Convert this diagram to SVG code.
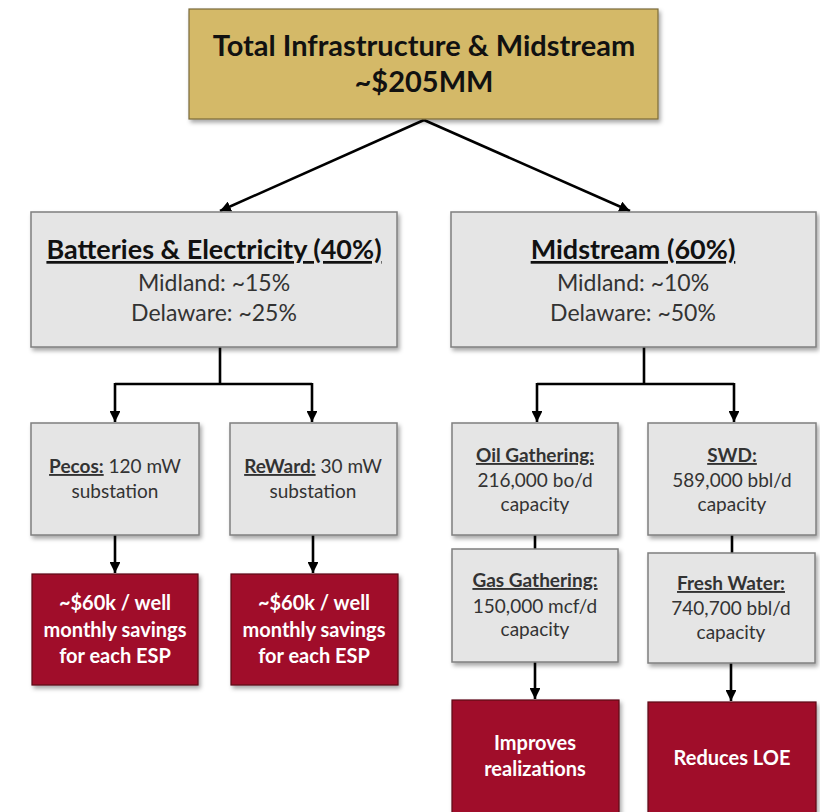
<svg xmlns="http://www.w3.org/2000/svg" width="820" height="812" viewBox="0 0 820 812">
<defs>
<filter id="sh" x="-10%" y="-10%" width="125%" height="130%">
<feDropShadow dx="2" dy="3" stdDeviation="2" flood-color="#000" flood-opacity="0.35"/>
</filter>
<marker id="ah" viewBox="0 0 10 10" refX="10" refY="5" markerWidth="4.2" markerHeight="4.2" markerUnits="strokeWidth" orient="auto">
<path d="M0,0 L10,5 L0,10 z" fill="#000"/>
</marker>
<style>
.gold{fill:#D4B968;stroke:#7a6a3a;stroke-width:1.2}
.gray{fill:#E5E5E5;stroke:#7f7f7f;stroke-width:1.5}
.red{fill:#A00D2C;stroke:#5a0716;stroke-width:1.2}
text{font-family:Lato,"Liberation Sans",sans-serif;text-anchor:middle}
.t0{font-size:29px;font-weight:bold;fill:#111}
.h1{font-size:27px;font-weight:bold;fill:#111;text-decoration:underline}
.s1{font-size:23px;fill:#333}
.b{font-size:19px;fill:#333}
.bu{font-weight:bold;text-decoration:underline}
.w{font-size:20px;font-weight:bold;fill:#fff}
.ln{fill:none;stroke:#000;stroke-width:2.6}
</style>
</defs>
<g id="connectors">
<path class="ln" d="M424,120 L220,211" marker-end="url(#ah)"/>
<path class="ln" d="M424,120 L630,211" marker-end="url(#ah)"/>
<path class="ln" d="M220,347 V384"/>
<path class="ln" d="M115,384 H312"/>
<path class="ln" d="M115,383 V422" marker-end="url(#ah)"/>
<path class="ln" d="M312,383 V422" marker-end="url(#ah)"/>
<path class="ln" d="M644,347 V384"/>
<path class="ln" d="M537,384 H734"/>
<path class="ln" d="M537,383 V422" marker-end="url(#ah)"/>
<path class="ln" d="M734,383 V422" marker-end="url(#ah)"/>
<path class="ln" d="M115,535 V573" marker-end="url(#ah)"/>
<path class="ln" d="M313,535 V573" marker-end="url(#ah)"/>
<path class="ln" d="M535,535 V549"/>
<path class="ln" d="M732,535 V553"/>
<path class="ln" d="M535,662 V699" marker-end="url(#ah)"/>
<path class="ln" d="M731,663 V701" marker-end="url(#ah)"/>
</g>
<g id="total">
<rect class="gold" x="189" y="9" width="469" height="110" filter="url(#sh)"/>
<text class="t0" x="424" y="56">Total Infrastructure &amp; Midstream</text>
<text class="t0" x="424" y="92">~$205MM</text>
</g>
<g id="batteries">
<rect class="gray" x="31" y="212" width="366" height="135" filter="url(#sh)"/>
<text class="h1" x="214" y="259">Batteries &amp; Electricity (40%)</text>
<text class="s1" x="214" y="291">Midland: ~15%</text>
<text class="s1" x="214" y="321">Delaware: ~25%</text>
</g>
<g id="midstream">
<rect class="gray" x="451" y="212" width="365" height="135" filter="url(#sh)"/>
<text class="h1" x="633" y="259">Midstream (60%)</text>
<text class="s1" x="633" y="291">Midland: ~10%</text>
<text class="s1" x="633" y="321">Delaware: ~50%</text>
</g>
<g id="pecos">
<rect class="gray" x="31" y="423" width="168" height="112" filter="url(#sh)"/>
<text class="b" x="115" y="473"><tspan class="bu">Pecos:</tspan> 120 mW</text>
<text class="b" x="115" y="498">substation</text>
</g>
<g id="reward">
<rect class="gray" x="230" y="423" width="167" height="112" filter="url(#sh)"/>
<text class="b" x="313" y="473"><tspan class="bu">ReWard:</tspan> 30 mW</text>
<text class="b" x="313" y="498">substation</text>
</g>
<g id="savings1">
<rect class="red" x="32" y="574" width="166" height="111" filter="url(#sh)"/>
<text class="w" x="115" y="610">~$60k / well</text>
<text class="w" x="115" y="637">monthly savings</text>
<text class="w" x="115" y="663">for each ESP</text>
</g>
<g id="savings2">
<rect class="red" x="231" y="574" width="167" height="111" filter="url(#sh)"/>
<text class="w" x="314" y="610">~$60k / well</text>
<text class="w" x="314" y="637">monthly savings</text>
<text class="w" x="314" y="663">for each ESP</text>
</g>
<g id="oil">
<rect class="gray" x="452" y="423" width="166" height="112" filter="url(#sh)"/>
<text class="b bu" x="535" y="462">Oil Gathering:</text>
<text class="b" x="535" y="487">216,000 bo/d</text>
<text class="b" x="535" y="511">capacity</text>
</g>
<g id="swd">
<rect class="gray" x="648" y="423" width="168" height="112" filter="url(#sh)"/>
<text class="b bu" x="732" y="462">SWD:</text>
<text class="b" x="732" y="487">589,000 bbl/d</text>
<text class="b" x="732" y="511">capacity</text>
</g>
<g id="gas">
<rect class="gray" x="452" y="549" width="166" height="113" filter="url(#sh)"/>
<text class="b bu" x="535" y="587">Gas Gathering:</text>
<text class="b" x="535" y="613">150,000 mcf/d</text>
<text class="b" x="535" y="636">capacity</text>
</g>
<g id="freshwater">
<rect class="gray" x="648" y="553" width="167" height="110" filter="url(#sh)"/>
<text class="b bu" x="731" y="590">Fresh Water:</text>
<text class="b" x="731" y="615">740,700 bbl/d</text>
<text class="b" x="731" y="639">capacity</text>
</g>
<g id="realizations">
<rect class="red" x="452" y="700" width="167" height="125" filter="url(#sh)"/>
<text class="w" x="535" y="750">Improves</text>
<text class="w" x="535" y="776">realizations</text>
</g>
<g id="loe">
<rect class="red" x="648" y="702" width="168" height="125" filter="url(#sh)"/>
<text class="w" x="732" y="765">Reduces LOE</text>
</g>
</svg>
